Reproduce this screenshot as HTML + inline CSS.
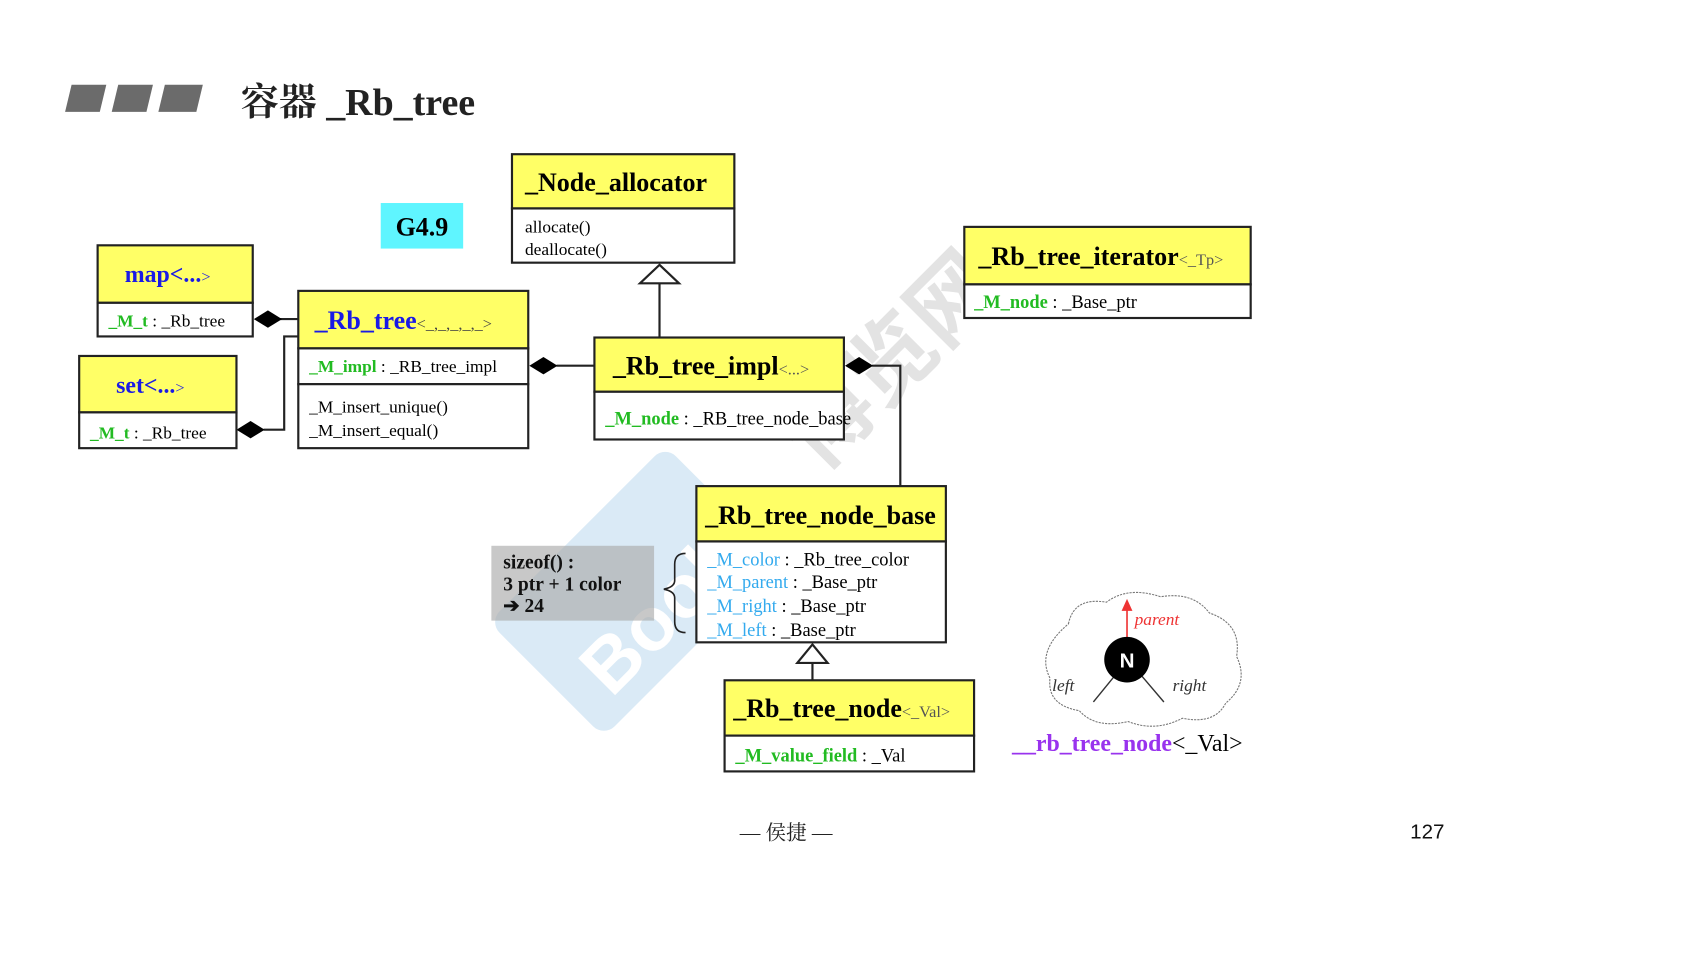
<!DOCTYPE html>
<html><head><meta charset="utf-8"><style>html,body{margin:0;padding:0;background:#fff;}svg{display:block}</style></head><body>
<svg width="1703" height="969" viewBox="0 0 1570 893" xmlns="http://www.w3.org/2000/svg" font-family="'Liberation Serif','Noto Serif CJK SC',serif">
<rect width="1577" height="897" fill="#fff"/>
<polygon points="66,78 98,78 92,103 60,103" fill="#6b6b6b"/>
<polygon points="109,78 141,78 135,103 103,103" fill="#6b6b6b"/>
<polygon points="152,78 187,78 181,103 146,103" fill="#6b6b6b"/>
<text x="222" y="106" font-size="35" font-weight="bold" fill="#222">容器 _Rb_tree</text>
<g opacity="0.55">
<rect x="470" y="470" width="230" height="150" rx="14" fill="#bcd9ef" transform="rotate(-45 585 545)"/>
<text x="500" y="600" font-size="70" font-weight="bold" font-family="'Liberation Sans',sans-serif" fill="#fff" transform="rotate(-45 585 545)">Boolan</text>
</g>
<text x="700" y="360" font-size="80" font-weight="bold" fill="#c8c8c8" opacity="0.5" font-family="'Noto Sans CJK SC',sans-serif" transform="rotate(-45 820 330)">博览网</text>
<rect x="351" y="187" width="76" height="42" fill="#5ff5ff"/>
<text x="389" y="217" font-size="24" font-weight="bold" text-anchor="middle">G4.9</text>
<g stroke="#222" stroke-width="2" fill="none">
<line x1="258" y1="294" x2="275" y2="294"/>
<polyline points="243,396 262,396 262,310 275,310"/>
<line x1="513" y1="337" x2="548" y2="337"/>
<line x1="608" y1="260" x2="608" y2="311"/>
<polyline points="804,337 830,337 830,448"/>
<line x1="749" y1="610" x2="749" y2="627"/>
</g>
<polygon points="608,244 626,261 590,261" fill="#fff" stroke="#222" stroke-width="2"/>
<polygon points="749,594 763,611 735,611" fill="#fff" stroke="#222" stroke-width="2"/>
<polygon points="234,294 247,286 260,294 247,302" fill="#000"/>
<polygon points="218,396 231,388 244,396 231,404" fill="#000"/>
<polygon points="488,337 501,329 514,337 501,345" fill="#000"/>
<polygon points="779,337 792,329 805,337 792,345" fill="#000"/>
<g stroke="#222" stroke-width="2">
<rect x="472" y="142" width="205" height="50" fill="#ffff66"/><rect x="472" y="192" width="205" height="50" fill="#fff"/>
<rect x="90" y="226" width="143" height="53" fill="#ffff66"/><rect x="90" y="279" width="143" height="31" fill="#fff"/>
<rect x="73" y="328" width="145" height="52" fill="#ffff66"/><rect x="73" y="380" width="145" height="33" fill="#fff"/>
<rect x="275" y="268" width="212" height="53" fill="#ffff66"/><rect x="275" y="321" width="212" height="33" fill="#fff"/><rect x="275" y="354" width="212" height="59" fill="#fff"/>
<rect x="548" y="311" width="230" height="50" fill="#ffff66"/><rect x="548" y="361" width="230" height="44" fill="#fff"/>
<rect x="889" y="209" width="264" height="53" fill="#ffff66"/><rect x="889" y="262" width="264" height="31" fill="#fff"/>
<rect x="642" y="448" width="230" height="51" fill="#ffff66"/><rect x="642" y="499" width="230" height="93" fill="#fff"/>
<rect x="668" y="627" width="230" height="51" fill="#ffff66"/><rect x="668" y="678" width="230" height="33" fill="#fff"/>
</g>
<text x="484" y="176" font-size="24" font-weight="bold">_Node_allocator</text>
<text x="484" y="214" font-size="16">allocate()</text>
<text x="484" y="235" font-size="16">deallocate()</text>
<text x="115" y="260" font-size="22" font-weight="bold" fill="#1a1ae6">map&lt;...<tspan font-size="15" font-weight="normal">&gt;</tspan></text>
<text x="100" y="301" font-size="16"><tspan fill="#22bb22" font-weight="bold">_M_t</tspan> : _Rb_tree</text>
<text x="107" y="362" font-size="22" font-weight="bold" fill="#1a1ae6">set&lt;...<tspan font-size="15" font-weight="normal">&gt;</tspan></text>
<text x="83" y="404" font-size="16"><tspan fill="#22bb22" font-weight="bold">_M_t</tspan> : _Rb_tree</text>
<text x="290" y="303" font-size="24" font-weight="bold" fill="#1a1ae6">_Rb_tree<tspan font-size="15" font-weight="normal" fill="#444">&lt;_,_,_,_,_&gt;</tspan></text>
<text x="285" y="343" font-size="16"><tspan fill="#22bb22" font-weight="bold">_M_impl</tspan> : _RB_tree_impl</text>
<text x="285" y="380" font-size="16">_M_insert_unique()</text>
<text x="285" y="402" font-size="16">_M_insert_equal()</text>
<text x="565" y="345" font-size="24" font-weight="bold">_Rb_tree_impl<tspan font-size="15" font-weight="normal" fill="#555">&lt;...&gt;</tspan></text>
<text x="558" y="391" font-size="17"><tspan fill="#22bb22" font-weight="bold">_M_node</tspan> : _RB_tree_node_base</text>
<text x="902" y="244" font-size="24" font-weight="bold">_Rb_tree_iterator<tspan font-size="15" font-weight="normal" fill="#555">&lt;_Tp&gt;</tspan></text>
<text x="898" y="284" font-size="17"><tspan fill="#22bb22" font-weight="bold">_M_node</tspan> : _Base_ptr</text>
<text x="650" y="483" font-size="24" font-weight="bold">_Rb_tree_node_base</text>
<g font-size="17"><text x="652" y="521"><tspan fill="#33aaee">_M_color</tspan> : _Rb_tree_color</text>
<text x="652" y="542"><tspan fill="#33aaee">_M_parent</tspan> : _Base_ptr</text>
<text x="652" y="564"><tspan fill="#33aaee">_M_right</tspan> : _Base_ptr</text>
<text x="652" y="586"><tspan fill="#33aaee">_M_left</tspan> : _Base_ptr</text></g>
<text x="676" y="661" font-size="24" font-weight="bold">_Rb_tree_node<tspan font-size="15" font-weight="normal" fill="#555">&lt;_Val&gt;</tspan></text>
<text x="678" y="702" font-size="17"><tspan fill="#22bb22" font-weight="bold">_M_value_field</tspan> : _Val</text>
<rect x="453" y="503" width="150" height="69" fill="#aaa" opacity="0.65"/>
<g font-size="18" font-weight="bold" fill="#111"><text x="464" y="524">sizeof() :</text><text x="464" y="544">3 ptr + 1 color</text><text x="464" y="564">➔  24</text></g>
<path d="M632,510 Q622,510 622,520 L622,535 Q622,541 612,543 Q622,545 622,551 L622,573 Q622,583 632,583" fill="none" stroke="#222" stroke-width="1.5"/>
<path d="M985,575 Q990,550 1020,555 Q1040,540 1070,550 Q1100,545 1115,565 Q1145,575 1140,605 Q1152,630 1130,648 Q1120,668 1090,662 Q1065,675 1040,665 Q1010,672 995,655 Q965,650 968,625 Q955,600 985,575 Z" fill="#fff" stroke="#777" stroke-width="1" stroke-dasharray="2,1"/>
<line x1="1039" y1="590" x2="1039" y2="560" stroke="#e33" stroke-width="1.5"/>
<polygon points="1039,552 1044,563 1034,563" fill="#e33"/>
<text x="1046" y="576" font-size="16" font-style="italic" fill="#e33">parent</text>
<line x1="1030" y1="620" x2="1008" y2="647" stroke="#333" stroke-width="1.3"/>
<line x1="1050" y1="620" x2="1073" y2="647" stroke="#333" stroke-width="1.3"/>
<circle cx="1039" cy="608" r="21" fill="#000"/>
<text x="1039" y="615" font-size="19" font-weight="bold" fill="#fff" text-anchor="middle" font-family="'Liberation Sans',sans-serif">N</text>
<text x="970" y="637" font-size="16" font-style="italic" fill="#333">left</text>
<text x="1081" y="637" font-size="16" font-style="italic" fill="#333">right</text>
<text x="933" y="692" font-size="22"><tspan fill="#9933ee" font-weight="bold">__rb_tree_node</tspan>&lt;_Val&gt;</text>
<text x="682" y="774" font-size="19" fill="#222">— 侯捷 —</text>
<text x="1300" y="773" font-size="19" fill="#111" font-family="'Liberation Sans',sans-serif">127</text>
</svg>
</body></html>
